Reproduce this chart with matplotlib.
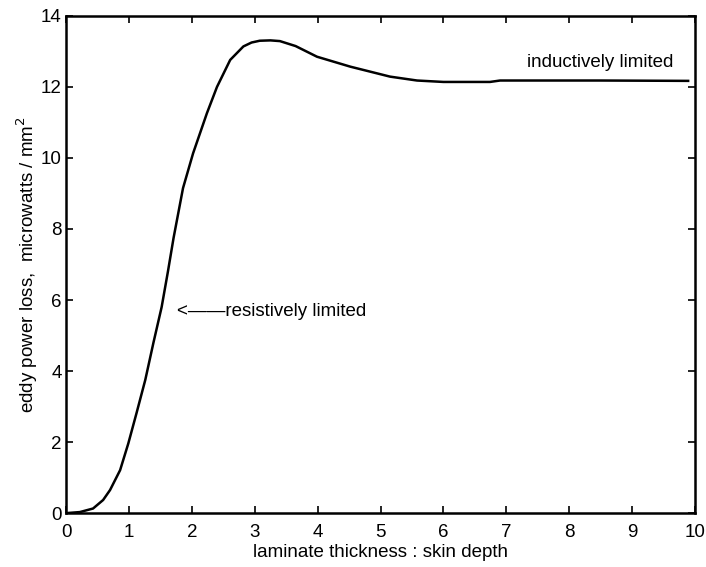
import matplotlib
matplotlib.use('Agg')
import matplotlib.pyplot as plt

plt.rcParams['font.family'] = ['Liberation Sans', 'DejaVu Sans']

# values
thickness = [0.0, 0.22, 0.43, 0.59, 0.70, 0.86, 0.99, 1.12, 1.26, 1.39, 1.52,
             1.62, 1.71, 1.86, 2.02, 2.24, 2.40, 2.61, 2.82, 2.95, 3.08, 3.25, 3.40,
             3.65, 3.99, 4.52, 5.15, 5.58, 6.00, 6.74, 6.90, 7.69, 8.50, 9.89]
power = [0.0, 0.03, 0.13, 0.37, 0.65, 1.21, 1.96, 2.81, 3.75, 4.80, 5.80,
         6.80, 7.75, 9.15, 10.13, 11.26, 12.0, 12.76, 13.14, 13.25, 13.30, 13.31, 13.29,
         13.15, 12.85, 12.57, 12.29, 12.18, 12.14, 12.14, 12.18, 12.18, 12.18, 12.17]

xticks = list(range(0, 11))
yticks = list(range(0, 15, 2))

fs = 13.5

fig = plt.figure(figsize=(7.06, 5.67), dpi=100)
ax = fig.add_axes([0.0935, 0.095, 0.891, 0.877])
ax.plot(thickness, power, color='black', lw=1.8)

ax.set_xlim(0, 10)
ax.set_ylim(0, 14)
ax.set_xticks(xticks)
ax.set_yticks(yticks)
ax.tick_params(direction='in', top=True, right=True, length=5, width=1.2,
               labelsize=fs)
ax.tick_params(axis='x', pad=8)
ax.tick_params(axis='y', pad=3)
for s in ax.spines.values():
    s.set_linewidth(1.8)

ax.set_xlabel('laminate thickness : skin depth', fontsize=fs, labelpad=2)
ax.set_ylabel('eddy power loss,  microwatts / mm$^2$', fontsize=fs, labelpad=1)

ax.text(1.76, 5.69, '<\u2014\u2014resistively limited', fontsize=fs, va='center', ha='left')
ax.text(8.49, 12.68, 'inductively limited', fontsize=fs, va='center', ha='center')

fig.savefig('out.png', dpi=100)
